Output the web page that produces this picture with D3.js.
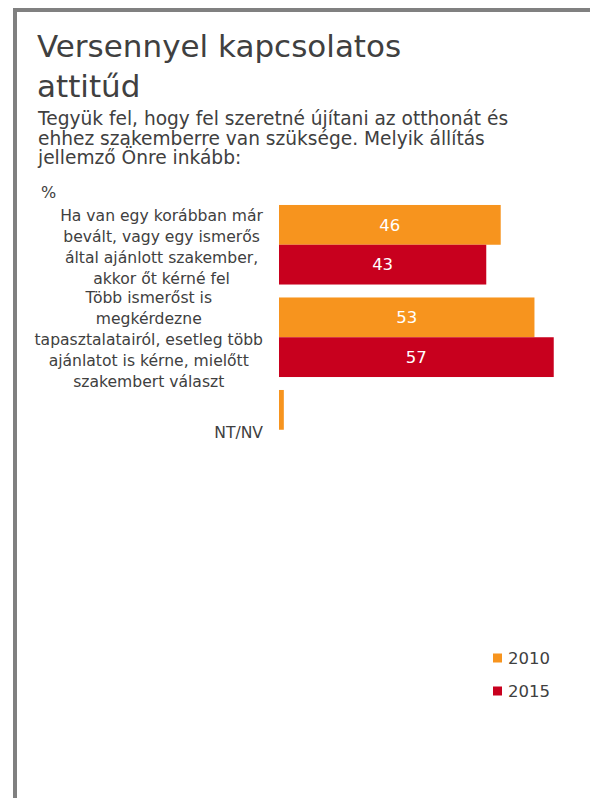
<!DOCTYPE html>
<html><head><meta charset="utf-8">
<script src="https://cdn.jsdelivr.net/npm/d3@7"></script>
<style>html,body{margin:0;padding:0;background:#fff;overflow:hidden}</style>
</head><body>
<script>
const categories = [
  ["Ha van egy korábban már","bevált, vagy egy ismerős","által ajánlott szakember,","akkor őt kérné fel"],
  ["Több ismerőst is","megkérdezne","tapasztalatairól, esetleg több","ajánlatot is kérne, mielőtt","szakembert választ"],
  ["NT/NV"]
];
const categoryKeys = ["A","B","C"];
const seriesNames = ["2010","2015"];
const values2010 = [46, 53, 1];
const values2015 = [43, 57, 0];
const colors = ["#F7941E", "#C8001E"];

const W = 590, H = 798;
const svg = d3.select("body").append("svg").attr("width", W).attr("height", H);
const font = "Verdana, 'DejaVu Sans', sans-serif";
const textColor = "#404040";

// frame
svg.append("rect").attr("x", 15).attr("y", 10).attr("width", 800).attr("height", 900)
  .attr("fill", "none").attr("stroke", "#808080").attr("stroke-width", 4);

// title
svg.append("text").attr("x", 37).attr("y", 57).attr("font-family", font).attr("font-size", 31)
  .attr("fill", textColor).text("Versennyel kapcsolatos");
svg.append("text").attr("x", 37).attr("y", 97).attr("font-family", font).attr("font-size", 31)
  .attr("fill", textColor).text("attitűd");
const sub = ["Tegyük fel, hogy fel szeretné újítani az otthonát és",
             "ehhez szakemberre van szüksége. Melyik állítás",
             "jellemző Önre inkább:"];
sub.forEach((s, i) => svg.append("text").attr("x", 38).attr("y", 125 + i * 19.6)
  .attr("font-family", font).attr("font-size", 18.6).attr("fill", textColor).text(s));
svg.append("text").attr("x", 41).attr("y", 198).attr("font-family", font).attr("font-size", 16)
  .attr("fill", textColor).text("%");

// scales
const y = d3.scaleBand().domain(categoryKeys).range([198.5, 476]).paddingInner(0.14).paddingOuter(0.07);
const ys = d3.scaleBand().domain(seriesNames).range([0, y.bandwidth()]);
const x = d3.scaleLinear().domain([0, 100]).range([279, 761]);

const rows = categoryKeys.map((k, i) => ({key: k, lines: categories[i], vals: [values2010[i], values2015[i]]}));

const g = svg.append("g");
rows.forEach(r => {
  r.vals.forEach((v, si) => {
    const yy = y(r.key) + ys(seriesNames[si]);
    if (v > 0) {
      g.append("rect").attr("x", x(0)).attr("y", yy).attr("width", x(v) - x(0)).attr("height", ys.bandwidth())
        .attr("fill", colors[si]);
    }
    if (v >= 5) {
      g.append("text").attr("x", (x(0) + x(v)) / 2).attr("y", yy + ys.bandwidth() / 2)
        .attr("dy", "0.35em").attr("text-anchor", "middle").attr("font-family", font)
        .attr("font-size", 16.5).attr("fill", "#fff").text(v);
    }
  });
  // category label: centered block, right edge at 263
  const lh = 21;
  const n = r.lines.length;
  const cy = y(r.key) + y.bandwidth() / 2 + 2.5;
  const tg = g.append("g");
  const ts = r.lines.map((l, i) => tg.append("text").attr("y", cy + (i - (n - 1) / 2) * lh)
    .attr("dy", "0.35em").attr("text-anchor", "middle").attr("font-family", font)
    .attr("font-size", 15.6).attr("fill", textColor).text(l));
  const maxW = d3.max(ts, t => t.node().getComputedTextLength());
  ts.forEach(t => t.attr("x", 263 - maxW / 2));
});

// legend
seriesNames.forEach((s, i) => {
  const ly = 658 + i * 33;
  svg.append("rect").attr("x", 493).attr("y", ly - 4.5).attr("width", 9).attr("height", 9).attr("fill", colors[i]);
  svg.append("text").attr("x", 508).attr("y", ly).attr("dy", "0.35em").attr("font-family", font)
    .attr("font-size", 16.5).attr("fill", textColor).text(s);
});
</script>
</body></html>
